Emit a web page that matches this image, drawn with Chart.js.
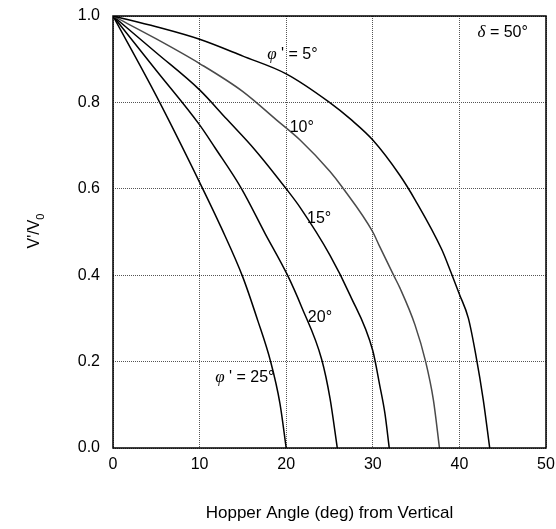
<!DOCTYPE html>
<html>
<head>
<meta charset="utf-8">
<script src="https://cdn.jsdelivr.net/npm/chart.js@4"></script>
<style>
  html, body { margin: 0; padding: 0; background: #ffffff; }
  #wrap { width: 556px; height: 529px; position: relative; }
</style>
</head>
<body>
<div id="wrap"><canvas id="hopperChart"></canvas></div>
<script>
// ===============================
// Data
// ===============================
const phi5X = [0, 5, 10, 15, 20, 25, 27.5, 30, 33.1, 34.9, 37.95, 39, 40, 41.04, 41.9, 42.76, 43.5];
const phi5Y = [1, 0.975, 0.946, 0.907, 0.866, 0.8, 0.76, 0.713, 0.632, 0.574, 0.46, 0.408, 0.356, 0.3, 0.215, 0.111, 0];

const phi10X = [0, 5, 10, 15, 18.9, 21.6, 25.06, 26.5, 30, 30.8, 32.4, 33.14, 34.87, 36.1, 37, 37.7];
const phi10Y = [1, 0.947, 0.89, 0.825, 0.759, 0.713, 0.64, 0.603, 0.5, 0.466, 0.4, 0.37, 0.285, 0.2, 0.111, 0];

const phi15X = [0, 5, 10, 13.1, 16.4, 20, 21.6, 25.06, 27.37, 30, 30.8, 31.4, 31.9];
const phi15Y = [1, 0.915, 0.829, 0.762, 0.69, 0.6, 0.557, 0.446, 0.354, 0.225, 0.145, 0.08, 0];

const phi20X = [0, 5, 10, 11.78, 14.85, 17.55, 20.15, 21.77, 24.1, 25.06, 25.9];
const phi20Y = [1, 0.874, 0.748, 0.695, 0.6, 0.497, 0.4, 0.327, 0.205, 0.115, 0];

const phi25X = [0, 5, 10, 12.5, 15, 16.7, 18.2, 19.28, 20];
const phi25Y = [1, 0.815, 0.615, 0.51, 0.395, 0.296, 0.2, 0.103, 0];

const curveLabels = [
  { sym: "\u03C6", text: " ' = 5\u00B0", x: 17.8, y: 0.91 },
  { sym: "", text: "10\u00B0", x: 20.4, y: 0.741 },
  { sym: "", text: "15\u00B0", x: 22.4, y: 0.532 },
  { sym: "", text: "20\u00B0", x: 22.5, y: 0.303 },
  { sym: "\u03C6", text: " ' = 25\u00B0", x: 11.8, y: 0.162 },
  { sym: "\u03B4", text: " = 50\u00B0", x: 42.1, y: 0.961 },
];

const toPoints = (xs, ys) => xs.map((x, i) => ({ x, y: ys[i] }));

const curve = (pts, color) => ({
  data: pts,
  borderColor: color,
  borderWidth: 1.5,
  pointRadius: 0,
  fill: false,
  showLine: true,
  cubicInterpolationMode: "monotone",
});

const FONT = "'Liberation Sans', Arial, sans-serif";

// ===============================
// Frame, labels and titles
// ===============================
const decorations = {
  id: "decorations",
  afterDatasetsDraw(chart) {
    const { ctx, chartArea, scales } = chart;
    ctx.save();

    // full black frame
    ctx.strokeStyle = "#000";
    ctx.lineWidth = 1.5;
    ctx.strokeRect(chartArea.left, chartArea.top,
      chartArea.right - chartArea.left, chartArea.bottom - chartArea.top);

    // curve labels
    ctx.fillStyle = "#000";
    ctx.textBaseline = "middle";
    ctx.textAlign = "left";
    curveLabels.forEach((l) => {
      let px = scales.x.getPixelForValue(l.x);
      const py = scales.y.getPixelForValue(l.y);
      if (l.sym) {
        ctx.font = "italic 17px 'Liberation Serif'";
        ctx.fillText(l.sym, px, py);
        px += ctx.measureText(l.sym).width;
      }
      ctx.font = "16px " + FONT;
      ctx.fillText(l.text, px, py);
    });

    // x axis title
    ctx.textAlign = "center";
    ctx.font = "17px " + FONT;
    ctx.fillText("Hopper Angle (deg) from Vertical",
      (chartArea.left + chartArea.right) / 2, 513);

    // y axis title with subscript
    ctx.translate(35, 231);
    ctx.rotate(-Math.PI / 2);
    ctx.textAlign = "left";
    ctx.font = "16px " + FONT;
    const main = "V'/V";
    const w = ctx.measureText(main).width;
    ctx.font = "11px " + FONT;
    const ws = ctx.measureText("0").width;
    const start = -(w + ws) / 2;
    ctx.font = "16px " + FONT;
    ctx.fillText(main, start, 0);
    ctx.font = "11px " + FONT;
    ctx.fillText("0", start + w, 6);

    ctx.restore();
  },
};

document.addEventListener("DOMContentLoaded", () => {
  const canvas = document.getElementById("hopperChart");

  new Chart(canvas, {
    type: "scatter",

    data: {
      datasets: [
        curve(toPoints(phi5X, phi5Y), "#000000"),
        curve(toPoints(phi10X, phi10Y), "#4a4a4a"),
        curve(toPoints(phi15X, phi15Y), "#000000"),
        curve(toPoints(phi20X, phi20Y), "#000000"),
        curve(toPoints(phi25X, phi25Y), "#000000"),
      ],
    },

    options: {
      responsive: true,
      maintainAspectRatio: false,
      animation: false,

      layout: {
        padding: { top: 16, right: 10, bottom: 0, left: 0 },
      },

      plugins: {
        legend: { display: false },
        tooltip: { enabled: false },
      },

      scales: {
        x: {
          type: "linear",
          min: 0,
          max: 50,
          afterFit: (scale) => {
            scale.height = 81;
            scale.paddingLeft = 0;
            scale.paddingRight = 0;
          },
          ticks: {
            stepSize: 10,
            padding: 7,
            color: "#000",
            font: { family: FONT, size: 16 },
          },
          grid: {
            color: "#555",
            drawTicks: false,
          },
          border: { display: false, dash: [1, 1] },
        },

        y: {
          min: 0,
          max: 1,
          afterFit: (scale) => {
            scale.width = 113;
            scale.paddingTop = 0;
            scale.paddingBottom = 0;
          },
          ticks: {
            stepSize: 0.2,
            padding: 13,
            color: "#000",
            font: { family: FONT, size: 16 },
            callback: (value) => value.toFixed(1),
          },
          grid: {
            color: "#555",
            drawTicks: false,
          },
          border: { display: false, dash: [1, 1] },
        },
      },
    },

    plugins: [decorations],
  });
});
</script>
</body>
</html>
